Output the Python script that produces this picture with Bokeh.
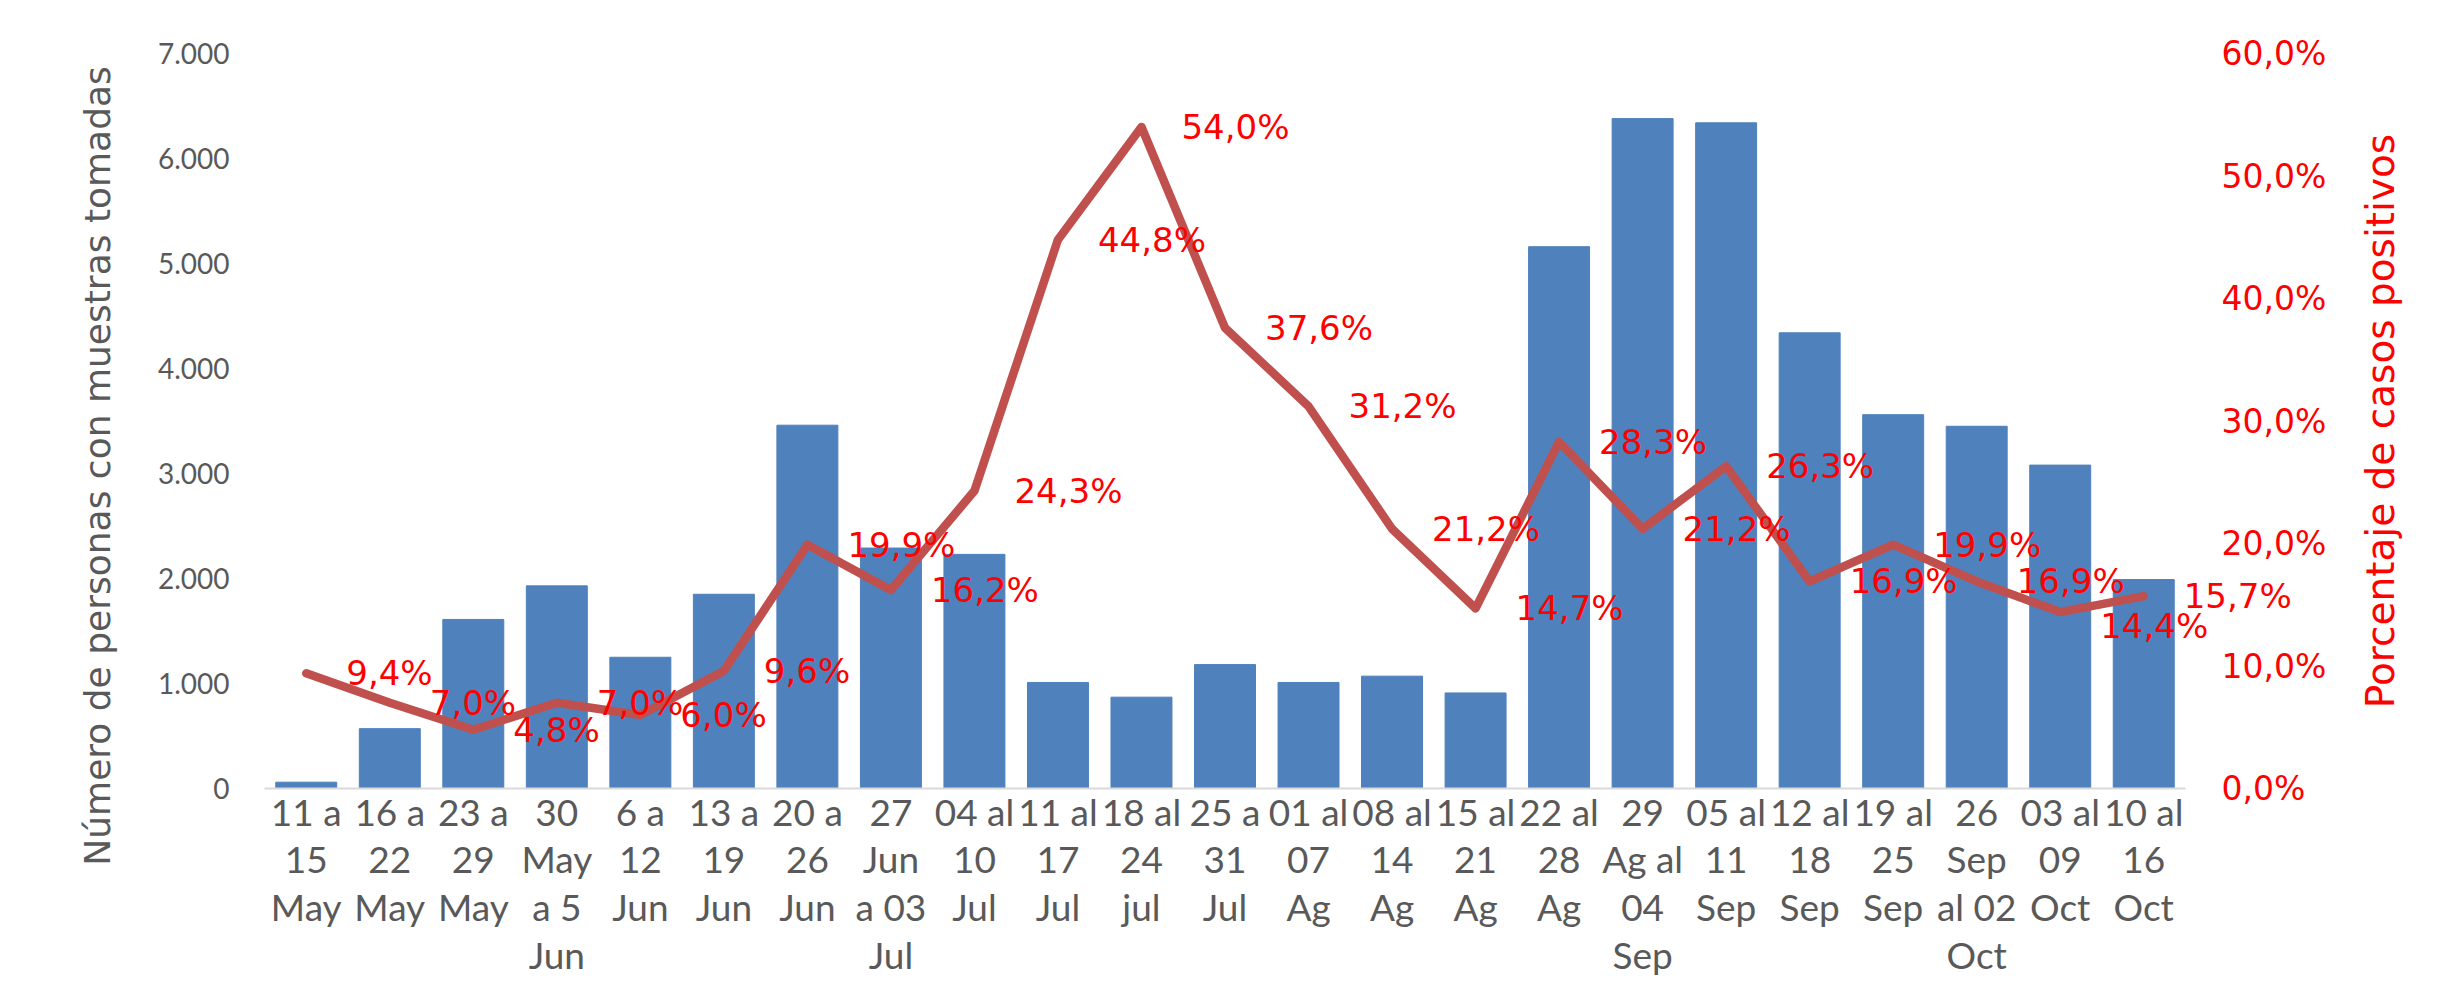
import math
from bokeh.plotting import figure
from bokeh.models import Range1d, LinearAxis, FixedTicker, ColumnDataSource, FactorRange
from bokeh.core.properties import value
from bokeh.embed import file_html
from bokeh.resources import INLINE

# ---- data ----
weeks = ["11 a\n15\nMay", "16 a\n22\nMay", "23 a\n29\nMay", "30\nMay\na 5\nJun",
         "6 a\n12\nJun", "13 a\n19\nJun", "20 a\n26\nJun", "27\nJun\na 03\nJul",
         "04 al\n10\nJul", "11 al\n17\nJul", "18 al\n24\njul", "25 a\n31\nJul",
         "01 al\n07\nAg", "08 al\n14\nAg", "15 al\n21\nAg", "22 al\n28\nAg",
         "29\nAg al\n04\nSep", "05 al\n11\nSep", "12 al\n18\nSep", "19 al\n25\nSep",
         "26\nSep\nal 02\nOct", "03 al\n09\nOct", "10 al\n16\nOct"]
personas = [60, 570, 1610, 1930, 1250, 1850, 3460, 2290, 2230, 1010, 870, 1180,
            1010, 1070, 910, 5160, 6380, 6340, 4340, 3560, 3450, 3080, 1990]
positivos = [9.4, 7.0, 4.8, 7.0, 6.0, 9.6, 19.9, 16.2, 24.3, 44.8, 54.0, 37.6,
             31.2, 21.2, 14.7, 28.3, 21.2, 26.3, 16.9, 19.9, 16.9, 14.4, 15.7]
left_ticks = [0, 1000, 2000, 3000, 4000, 5000, 6000, 7000]
left_tick_labels = ["0", "1.000", "2.000", "3.000", "4.000", "5.000", "6.000", "7.000"]
right_ticks = [0, 10, 20, 30, 40, 50, 60]
right_tick_labels = ["0,0%", "10,0%", "20,0%", "30,0%", "40,0%", "50,0%", "60,0%"]
left_title = "Número de personas con  muestras tomadas"
right_title = "Porcentaje de casos positivos"

# ---- styling (label nudges in screen px) ----
label_dx = [40] * len(weeks)
label_dy = [0] * len(weeks)
label_dy[21] = 14

CAL = "Lato"
VER = "DejaVu Sans"
GRAY = "#595959"
RED = "#FF0000"

src = ColumnDataSource(dict(
    x=weeks, n=personas, p=positivos,
    lab=[("%.1f%%" % v).replace(".", ",") for v in positivos],
    dx=label_dx, dy=label_dy,
))

p = figure(width=2442, height=979, x_range=FactorRange(*weeks, range_padding=0),
           y_range=Range1d(0, 7000), output_backend="svg", toolbar_location=None,
           min_border_left=264, min_border_right=257, min_border_top=53,
           min_border_bottom=190)
p.extra_y_ranges = {"pct": Range1d(0, 60)}

p.vbar(x="x", top="n", width=0.73, source=src, color="#4F81BD")
p.line(x="x", y="p", source=src, y_range_name="pct", line_color="#C0504D",
       line_width=8.5, line_join="round", line_cap="round")
labels = p.text(x="x", y="p", text="lab", source=src, y_range_name="pct",
                x_offset="dx", y_offset="dy", text_align="left", text_baseline="middle",
                text_color=RED, text_font=value(VER), text_font_size="34px")
labels.level = "overlay"

p.xgrid.visible = False
p.ygrid.visible = False
p.outline_line_color = None

# x axis
xa = p.xaxis[0]
xa.axis_line_color = "#D9D9D9"
xa.axis_line_width = 2
xa.major_tick_line_color = None
xa.minor_tick_line_color = None
xa.major_label_text_font = CAL
xa.major_label_text_font_size = "37px"
xa.major_label_text_color = GRAY
xa.major_label_text_line_height = 1.06
xa.major_label_standoff = -6

# left axis
ya = p.yaxis[0]
ya.ticker = FixedTicker(ticks=left_ticks)
ya.major_label_overrides = dict(zip(left_ticks, left_tick_labels))
ya.axis_line_color = None
ya.major_tick_line_color = None
ya.minor_tick_line_color = None
ya.major_label_text_font = CAL
ya.major_label_text_font_size = "28px"
ya.major_label_text_color = GRAY
ya.major_label_standoff = 29

# right axis
ra = LinearAxis(y_range_name="pct", ticker=FixedTicker(ticks=right_ticks),
                major_label_overrides=dict(zip(right_ticks, right_tick_labels)))
ra.axis_line_color = None
ra.major_tick_line_color = None
ra.minor_tick_line_color = None
ra.major_label_text_font = VER
ra.major_label_text_font_size = "33px"
ra.major_label_text_color = RED
ra.major_label_standoff = 30
p.add_layout(ra, "right")

# axis titles, both reading bottom-to-top, placed in the borders
lt = p.text(x=[-2.0], y=[26.8], text=[left_title], y_range_name="pct",
            angle=math.pi / 2, text_align="center", text_baseline="middle",
            text_color=GRAY, text_font=value(VER), text_font_size="36px")
lt.level = "overlay"
rt = p.text(x=[25.33], y=[30.0], text=[right_title], y_range_name="pct",
            angle=math.pi / 2, text_align="center", text_baseline="middle",
            text_color=RED, text_font=value(VER), text_font_size="39px")
rt.level = "overlay"

open("out.html", "w").write(file_html(p, INLINE))
